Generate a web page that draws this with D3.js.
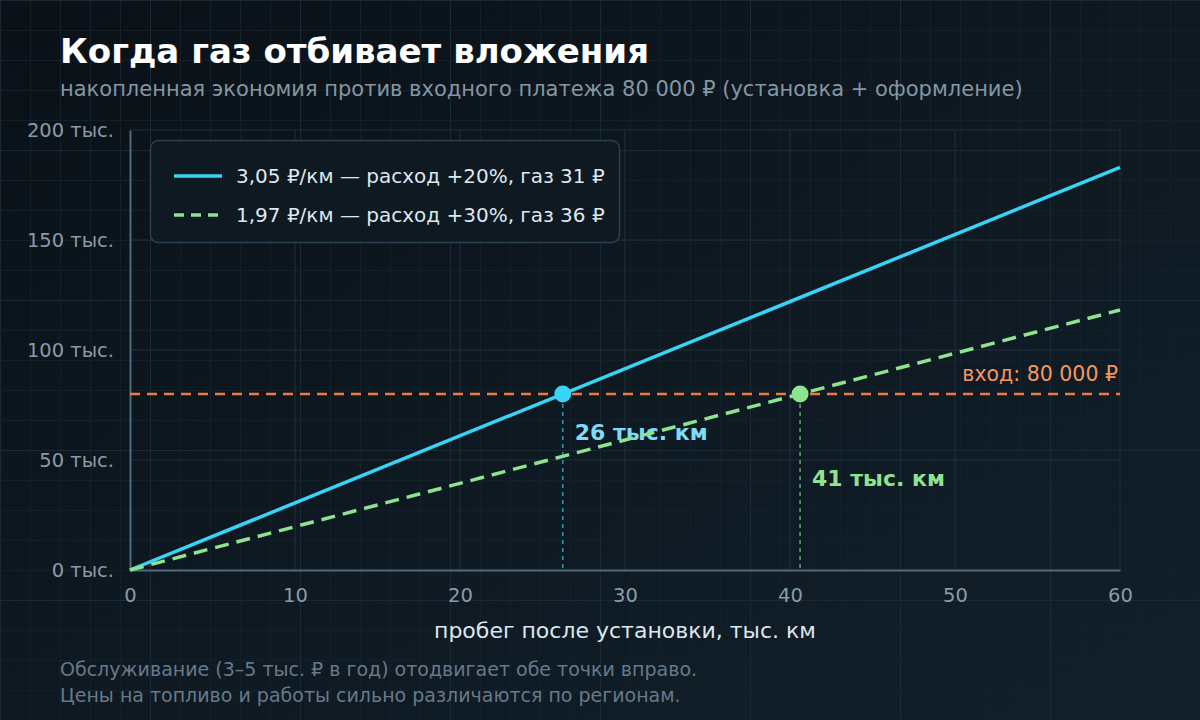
<!DOCTYPE html>
<html><head><meta charset="utf-8">
<script src="https://cdn.jsdelivr.net/npm/d3@7"></script>
<style>
html,body{margin:0;padding:0;background:#0d151c;}
svg{display:block;font-family:"DejaVu Sans",sans-serif;}
</style></head>
<body>
<svg id="c" width="1200" height="720"></svg>
<script>
const title = "Когда газ отбивает вложения";
const subtitle = "накопленная экономия против входного платежа 80 000 ₽ (установка + оформление)";
const xLabel = "пробег после установки, тыс. км";
const footnotes = ["Обслуживание (3–5 тыс. ₽ в год) отодвигает обе точки вправо.",
                   "Цены на топливо и работы сильно различаются по регионам."];
const xTicks = [0, 10, 20, 30, 40, 50, 60];
const yTicks = [0, 50, 100, 150, 200];
const seriesNames = ["3,05 ₽/км — расход +20%, газ 31 ₽", "1,97 ₽/км — расход +30%, газ 36 ₽"];
const savingPerKm = [3.05, 1.97];            // ₽ per km
const mileage = [0, 60];                     // тыс. км
const entryCost = 80;                        // тыс. ₽
const entryLabel = "вход: 80 000 ₽";
const breakLabels = ["26 тыс. км", "41 тыс. км"];
const colors = ["#38d3f5", "#8de38f"];
const labelColors = ["#7ddcf6", "#8de38f"];

const svg = d3.select("#c");
const W = 1200, H = 720;
const m = {l:130, r:1120, t:130, b:570};

// background
const defs = svg.append("defs");
const bg = defs.append("linearGradient").attr("id","bg").attr("x1","0").attr("y1","0").attr("x2","1").attr("y2","1");
bg.append("stop").attr("offset","0").attr("stop-color","#0a1117");
bg.append("stop").attr("offset","1").attr("stop-color","#12202b");
svg.append("rect").attr("width",W).attr("height",H).attr("fill","url(#bg)");
const bgGrid = svg.append("g");
for (let x = 0; x <= W; x += 30) {
  bgGrid.append("line").attr("x1",x+0.5).attr("x2",x+0.5).attr("y1",0).attr("y2",H)
    .attr("stroke", x % 150 === 0 ? "#1a2935" : "#131f29").attr("stroke-width",1);
}
for (let y = 0; y <= H; y += 30) {
  bgGrid.append("line").attr("y1",y+0.5).attr("y2",y+0.5).attr("x1",0).attr("x2",W)
    .attr("stroke", y % 150 === 0 ? "#1a2935" : "#131f29").attr("stroke-width",1);
}

const x = d3.scaleLinear().domain([0, 60]).range([m.l, m.r]);
const y = d3.scaleLinear().domain([0, 200]).range([m.b, m.t]);

// plot grid
const grid = svg.append("g");
grid.selectAll(".gx").data(xTicks.slice(1)).join("line")
  .attr("x1",d=>x(d)).attr("x2",d=>x(d)).attr("y1",m.t).attr("y2",m.b)
  .attr("stroke","#1f303c").attr("stroke-width",1);
grid.selectAll(".gy").data(yTicks.slice(1)).join("line")
  .attr("y1",d=>y(d)).attr("y2",d=>y(d)).attr("x1",m.l).attr("x2",m.r)
  .attr("stroke","#1f303c").attr("stroke-width",1);

// axes
const xAxis = svg.append("g").attr("transform",`translate(0,${m.b})`)
  .call(d3.axisBottom(x).tickValues(xTicks).tickSize(0).tickPadding(18).tickFormat(d3.format("d")));
const yAxis = svg.append("g").attr("transform",`translate(${m.l},0)`)
  .call(d3.axisLeft(y).tickValues(yTicks).tickSize(0).tickPadding(16).tickFormat(d=>d+" тыс."));
[xAxis,yAxis].forEach(a=>{
  a.select(".domain").attr("stroke","#4e6a7c").attr("stroke-width",2);
  a.selectAll("text").attr("fill","#8a9ba8").attr("font-size",19.5).attr("font-family","DejaVu Sans");
});
yAxis.selectAll("text").attr("dy","0.32em");
xAxis.selectAll("text").attr("dy","0.7em");

// entry line
svg.append("line").attr("x1",x(0)).attr("x2",x(60)).attr("y1",y(entryCost)).attr("y2",y(entryCost))
  .attr("stroke","#f07a3e").attr("stroke-width",2.5).attr("stroke-dasharray","10,7");
svg.append("text").attr("x",x(60)-2).attr("y",y(entryCost)-13).attr("text-anchor","end")
  .attr("fill","#f5965f").attr("font-size",20.5).text(entryLabel);

// break-even guides and labels (beneath series lines)
savingPerKm.forEach((s,i)=>{
  const be = entryCost / s;
  svg.append("line").attr("x1",x(be)).attr("x2",x(be)).attr("y1",y(entryCost)+10).attr("y2",m.b)
    .attr("stroke",colors[i]).attr("stroke-width",1.2).attr("stroke-dasharray","4,4").attr("opacity",0.85);
  svg.append("text").attr("x",x(be)+12).attr("y",y(entryCost)+ (i===0 ? 46 : 92))
    .attr("fill",labelColors[i]).attr("font-size",22).attr("font-weight","bold").text(breakLabels[i]);
});

// series lines
const line = d3.line().x(d=>x(d[0])).y(d=>y(d[1]));
savingPerKm.forEach((s,i)=>{
  const pts = mileage.map(k=>[k, k*s]);
  svg.append("path").attr("d",line(pts)).attr("fill","none")
    .attr("stroke",colors[i]).attr("stroke-width",3.5)
    .attr("stroke-dasharray", i===1 ? "14,8" : null).attr("stroke-linecap","butt");
});

// break-even points
savingPerKm.forEach((s,i)=>{
  const be = entryCost / s;
  svg.append("circle").attr("cx",x(be)).attr("cy",y(entryCost)).attr("r",8.5).attr("fill",colors[i]);
});

// legend
const lg = svg.append("g");
lg.append("rect").attr("x",150.5).attr("y",140.5).attr("width",469).attr("height",102).attr("rx",8)
  .attr("fill","#0f1a22").attr("fill-opacity",0.92).attr("stroke","#2b4050").attr("stroke-width",1.5);
seriesNames.forEach((n,i)=>{
  const yy = 176 + i*39;
  lg.append("line").attr("x1",174).attr("x2",222).attr("y1",yy).attr("y2",yy)
    .attr("stroke",colors[i]).attr("stroke-width",3.5).attr("stroke-dasharray", i===1 ? "10,7" : null);
  lg.append("text").attr("x",236).attr("y",yy).attr("dy","0.35em").attr("fill","#dfe7ee")
    .attr("font-size",20).text(n);
});

// titles
svg.append("text").attr("x",60).attr("y",63).attr("fill","#ffffff").attr("font-size",34)
  .attr("font-weight","bold").text(title);
svg.append("text").attr("x",60).attr("y",96).attr("fill","#8596a3").attr("font-size",21).text(subtitle);
svg.append("text").attr("x",(m.l+m.r)/2).attr("y",638).attr("text-anchor","middle")
  .attr("fill","#dde6ee").attr("font-size",22).text(xLabel);
footnotes.forEach((f,i)=>{
  svg.append("text").attr("x",60).attr("y",676+i*26).attr("fill","#67798a").attr("font-size",19).text(f);
});
</script>
</body></html>
